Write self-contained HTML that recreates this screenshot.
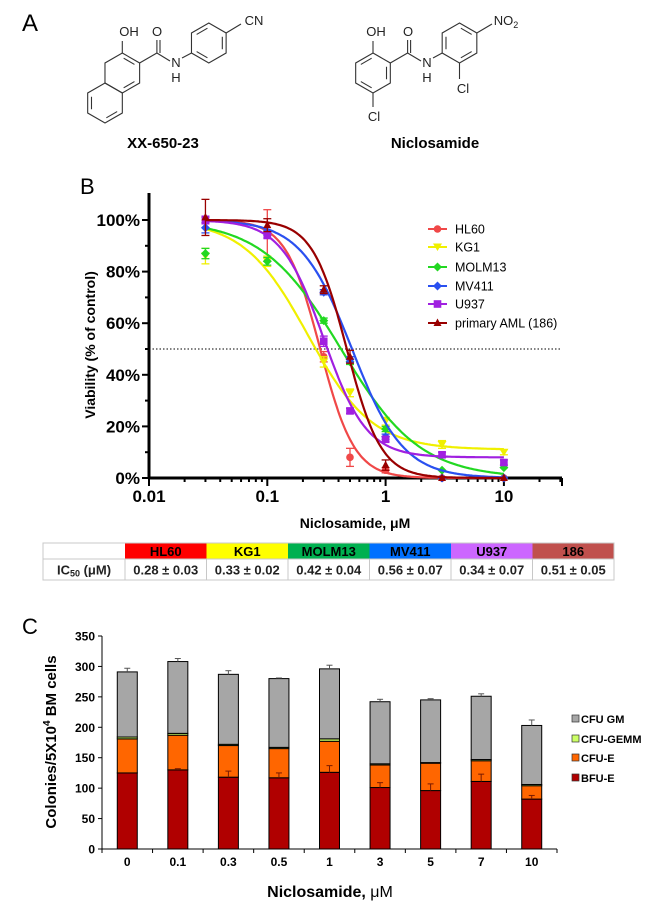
<!DOCTYPE html>
<html><head><meta charset="utf-8"><style>
body{margin:0;background:#fff;width:650px;height:912px;overflow:hidden;font-family:"Liberation Sans",sans-serif}
svg{position:absolute;left:0;top:0}
</style></head><body>
<svg id="fig" width="650" height="912" viewBox="0 0 650 912" xmlns="http://www.w3.org/2000/svg" font-family="Liberation Sans, sans-serif">
<!-- Panel A -->
<text x="22" y="31" font-size="24">A</text>
<g id="mol1" stroke="#333" stroke-width="1.1" fill="none"></g>
<g id="mol2" stroke="#333" stroke-width="1.1" fill="none"></g>
<g font-size="13" fill="#222">
<text x="129" y="36" text-anchor="middle">OH</text>
<text x="157" y="36" text-anchor="middle">O</text>
<text x="176" y="67" text-anchor="middle">N</text>
<text x="176" y="82" text-anchor="middle">H</text>
<text x="254" y="25" text-anchor="middle">CN</text>
<text x="376" y="36" text-anchor="middle">OH</text>
<text x="408" y="36" text-anchor="middle">O</text>
<text x="427" y="67" text-anchor="middle">N</text>
<text x="427" y="82" text-anchor="middle">H</text>
<text x="506" y="25" text-anchor="middle">NO<tspan font-size="9" dy="3">2</tspan></text>
<text x="463" y="93" text-anchor="middle">Cl</text>
<text x="374" y="121" text-anchor="middle">Cl</text>
</g>
<text x="163" y="148" font-size="15" font-weight="bold" text-anchor="middle">XX-650-23</text>
<text x="435" y="148" font-size="15" font-weight="bold" text-anchor="middle">Niclosamide</text>

<!-- Panel B -->
<text x="80" y="194" font-size="22">B</text>
<g id="chartB"></g>

<!-- Table -->
<g id="table"></g>

<!-- Panel C -->
<text x="22" y="634" font-size="22">C</text>
<g id="chartC"></g>
</svg>
<script>
// ---------- Panel B data ----------
const doses = [0.03, 0.1, 0.3, 0.5, 1, 3, 10];
const seriesNames = ["HL60","KG1","MOLM13","MV411","U937","primary AML (186)"];
const hl60Vals  = [100, 94, 47, 8, 3, 0, 0];
const kg1Vals   = [86, 84, 45, 33, 22, 13, 10];
const molm13Vals= [87, 84, 61, 45, 19, 3, 4];
const mv411Vals = [97, 95, 72, 46, 16, 0, 0];
const u937Vals  = [100, 94, 53, 26, 15, 9, 6];
const amlVals   = [101, 98, 73, 47, 5, 0, 0];
const hl60Err  = [1, 10, 2, 3.5, 1, 0, 0];
const kg1Err   = [3, 2, 2, 1.5, 1.5, 1.5, 1];
const molm13Err= [2, 1.5, 1, 1, 1, 0.5, 0.5];
const mv411Err = [2, 1, 1, 1, 1, 0.5, 0.5];
const u937Err  = [1.5, 1, 2, 1, 1, 1, 1];
const amlErr   = [7, 2.5, 1.5, 2.5, 2, 0.5, 0.5];
const fitTop    = [100, 100, 100, 100, 100, 100];
const fitBottom = [0, 11, 0, 0, 8, 0];
const fitEC50   = [0.28, 0.22, 0.42, 0.52, 0.3, 0.47];
const fitHill   = [3.0, 1.6, 1.3, 2.0, 2.4, 3.0];
const yTicks = [0, 20, 40, 60, 80, 100];
const xTicks = [0.01, 0.1, 1, 10];
const xTickLabels = ["0.01","0.1","1","10"];

// ---------- Table data ----------
const tableHeads = ["HL60","KG1","MOLM13","MV411","U937","186"];
const tableVals = ["0.28 ± 0.03","0.33 ± 0.02","0.42 ± 0.04","0.56 ± 0.07","0.34 ± 0.07","0.51 ± 0.05"];

// ---------- Panel C data ----------
const conc = ["0","0.1","0.3","0.5","1","3","5","7","10"];
const bfuE  = [125,130,118,117,126,101,96,111,82];
const cfuE  = [56,57,52,48,51,37,45,34,22];
const gemm  = [3,3,2,2,4,2,1,2,2];
const cfuGM = [107,118,115,113,115,102,103,104,97];
const bfuErr= [0,2,10,8,11,8,11,12,6];
const totErr= [6,5,6,1,6,4,2,4,9];
const cTicks = [0,50,100,150,200,250,300,350];
const legendC = ["CFU GM","CFU-GEMM","CFU-E","BFU-E"];

const NS="http://www.w3.org/2000/svg";
function mk(tag, attrs, parent){const e=document.createElementNS(NS,tag);for(const k in attrs)e.setAttribute(k,attrs[k]);parent.appendChild(e);return e;}

// ---------- Structures ----------
function hexPts(cx,cy,L){const p=[];for(let i=0;i<6;i++){const a=(-90+60*i)*Math.PI/180;p.push([cx+L*Math.cos(a),cy+L*Math.sin(a)]);}return p;}
function ring(g,cx,cy,L,dbl){const p=hexPts(cx,cy,L);mk('polygon',{points:p.map(q=>q.join(',')).join(' ')},g);
 dbl.forEach(i=>{const a=p[i],b=p[(i+1)%6];const s=0.78;const ax=cx+(a[0]-cx)*s,ay=cy+(a[1]-cy)*s,bx=cx+(b[0]-cx)*s,by=cy+(b[1]-cy)*s;
 const mx=(ax+bx)/2,my=(ay+by)/2;mk('line',{x1:mx+(ax-mx)*0.8,y1:my+(ay-my)*0.8,x2:mx+(bx-mx)*0.8,y2:my+(by-my)*0.8},g);});}
function ln(g,x1,y1,x2,y2){mk('line',{x1,y1,x2,y2},g);}
(function(){
 const g=document.getElementById('mol1');const L=20;
 ring(g,105,103,L,[2,4]);ring(g,122.3,73,L,[0,2]);ring(g,208.8,43,L,[1,3,5]);
 ln(g,122.3,53,122.3,41);
 ln(g,139.6,63,156.9,53);ln(g,156.9,53,156.9,40);ln(g,160,53,160,40);
 ln(g,156.9,53,170,61);ln(g,182,58,191.5,53);
 ln(g,226.1,33,241,24);
 const h=document.getElementById('mol2');
 ring(h,373,73,L,[1,3,5]);ring(h,459.5,43,L,[0,2,4]);
 ln(h,373,53,373,41);
 ln(h,390.3,63,407.6,53);ln(h,407.6,53,407.6,40);ln(h,410.6,53,410.6,40);
 ln(h,407.6,53,421,61);ln(h,433,58,442.2,53);
 ln(h,476.8,33,492,24);ln(h,459.5,63,459.5,79);ln(h,373,93,373,107);
})();

// ---------- Panel B ----------
(function(){
 const g=document.getElementById('chartB');
 const X0=149, DEC=118.3, Y0=478, YS=2.58, XEND=562;
 const xs=v=>X0+(Math.log10(v)+2)*DEC, ys=v=>Y0-v*YS;
 const colors=["#f04848","#f0f000","#22d822","#2a50f0","#a020e0","#990000"];
 const vals=[hl60Vals,kg1Vals,molm13Vals,mv411Vals,u937Vals,amlVals];
 const errs=[hl60Err,kg1Err,molm13Err,mv411Err,u937Err,amlErr];
 // axes
 let e=mk('line',{x1:X0,y1:193,x2:X0,y2:Y0,stroke:"#000","stroke-width":3},g);
 e=mk('line',{x1:X0,y1:Y0,x2:XEND,y2:Y0,stroke:"#000","stroke-width":3},g);
 for(let v=0;v<=100;v+=10){const big=v%20===0;mk('line',{x1:X0-(big?7:4),y1:ys(v),x2:X0,y2:ys(v),stroke:"#000","stroke-width":2},g);}
 yTicks.forEach(v=>{const t=mk('text',{x:X0-9,y:ys(v)+6,"font-size":17,"font-weight":"bold","text-anchor":"end"},g);t.textContent=v+"%";
  });
 for(let d=-2;d<=1;d++)for(let m=1;m<=9;m++){const v=m*Math.pow(10,d);if(v>30)continue;const x=xs(v);mk('line',{x1:x,y1:Y0,x2:x,y2:Y0+(m===1?8:4),stroke:"#000","stroke-width":2},g);}
 mk('line',{x1:XEND,y1:Y0,x2:XEND,y2:Y0+8,stroke:"#000","stroke-width":2},g);
 xTicks.forEach((v,i)=>{const t=mk('text',{x:xs(v),y:Y0+24,"font-size":17,"font-weight":"bold","text-anchor":"middle"},g);t.textContent=xTickLabels[i];
  });
 let t=mk('text',{x:355,y:528,"font-size":14,"font-weight":"bold","text-anchor":"middle"},g);t.textContent="Niclosamide, μM";
 
 t=mk('text',{x:0,y:0,"font-size":14,"font-weight":"bold","text-anchor":"middle",transform:"translate(95,345) rotate(-90)"},g);t.textContent="Viability (% of control)";
 
 e=mk('line',{x1:X0,y1:ys(50),x2:XEND,y2:ys(50),stroke:"#000","stroke-width":1,"stroke-dasharray":"1.5,2"},g);
 
 function marker(i,x,y,c,parent){
  let m;
  if(i===0)m=mk('circle',{cx:x,cy:y,r:3.8,fill:c},parent);
  else if(i===1)m=mk('polygon',{points:`${x-4.5},${y-3.5} ${x+4.5},${y-3.5} ${x},${y+4}`,fill:c},parent);
  else if(i===2||i===3)m=mk('polygon',{points:`${x},${y-4.5} ${x+4.5},${y} ${x},${y+4.5} ${x-4.5},${y}`,fill:c},parent);
  else if(i===4)m=mk('rect',{x:x-3.8,y:y-3.8,width:7.6,height:7.6,fill:c},parent);
  else m=mk('polygon',{points:`${x},${y-4.5} ${x+4},${y+3} ${x-4},${y+3}`,fill:c},parent);
  return m;}
 vals.forEach((arr,i)=>{
  const sg=mk('g',{},g);
  let d="";for(let k=0;k<=200;k++){const lx=-1.52+k*(Math.log10(10)+1.52)/200;const v=Math.pow(10,lx);
   const y=fitBottom[i]+(fitTop[i]-fitBottom[i])/(1+Math.pow(v/fitEC50[i],fitHill[i]));d+=(k?"L":"M")+xs(v).toFixed(1)+","+ys(y).toFixed(1);}
  const p=mk('path',{d:d,fill:"none",stroke:colors[i],"stroke-width":2.2},sg);
  arr.forEach((v,k)=>{const x=xs(doses[k]),y=ys(v),er=errs[i][k]*YS;
   if(er>2){mk('line',{x1:x,y1:y-er,x2:x,y2:y+er,stroke:colors[i],"stroke-width":1.3},sg);
    mk('line',{x1:x-4,y1:y-er,x2:x+4,y2:y-er,stroke:colors[i],"stroke-width":1.3},sg);mk('line',{x1:x-4,y1:y+er,x2:x+4,y2:y+er,stroke:colors[i],"stroke-width":1.3},sg);}
   const m=marker(i,x,y,colors[i],sg);});
 });
 const lg=mk('g',{},g);
 const ly=[229,247,267,286,304,323];
 seriesNames.forEach((n,i)=>{const eg=mk('g',{},lg);
  mk('line',{x1:428,y1:ly[i],x2:447,y2:ly[i],stroke:colors[i],"stroke-width":2},eg);marker(i,437.5,ly[i],colors[i],eg);
  const t=mk('text',{x:455,y:ly[i]+4.5,"font-size":12.5},eg);t.textContent=n;});
})();

// ---------- Table ----------
(function(){
 const g=document.getElementById('table');
 const L=43,T=543,LW=82,CW=81.5,H1=16,H2=21;
 const bg=["#ff0000","#ffff00","#00b050","#0070ff","#cc66ff","#c0504d"];
 tableHeads.forEach((h,i)=>{const x=L+LW+i*CW;
  const r=mk('rect',{x:x,y:T,width:CW,height:H1,fill:bg[i]},g);
  const t=mk('text',{x:x+CW/2,y:T+13,"font-size":13,"font-weight":"bold","text-anchor":"middle"},g);t.textContent=h;
  
  const v=mk('text',{x:x+CW/2,y:T+H1+15.5,"font-size":13,"font-weight":"bold","text-anchor":"middle",fill:"#222"},g);v.textContent=tableVals[i];
  });
 const R=L+LW+6*CW;
 mk('rect',{x:L,y:T,width:R-L,height:H1+H2,fill:"none",stroke:"#c8c8c8","stroke-width":1},g);
 mk('line',{x1:L,y1:T+H1,x2:R,y2:T+H1,stroke:"#c8c8c8"},g);
 for(let i=0;i<=6;i++){const x=L+LW+i*CW;mk('line',{x1:x,y1:T+H1,x2:x,y2:T+H1+H2,stroke:"#c8c8c8"},g);}
 const t=mk('text',{x:L+LW/2,y:T+H1+15.5,"font-size":13,"font-weight":"bold","text-anchor":"middle",fill:"#222"},g);
 t.innerHTML='IC<tspan font-size="9" dy="2">50</tspan><tspan dy="-2"> (μM)</tspan>';
 
})();

// ---------- Panel C ----------
(function(){
 const g=document.getElementById('chartC');
 const X0=102,XE=557,Y0=849,S=(849-636)/350;const CW=(XE-X0)/conc.length,BW=20;
 const ys=v=>Y0-v*S;
 let e=mk('line',{x1:X0,y1:636,x2:X0,y2:Y0,stroke:"#000","stroke-width":1},g);
 e=mk('line',{x1:X0,y1:Y0,x2:XE,y2:Y0,stroke:"#000","stroke-width":1},g);
 cTicks.forEach(v=>{mk('line',{x1:X0-4,y1:ys(v),x2:X0,y2:ys(v),stroke:"#000"},g);
  const t=mk('text',{x:X0-7,y:ys(v)+4.5,"font-size":12,"font-weight":"bold","text-anchor":"end"},g);t.textContent=v;
  });
 for(let i=0;i<=conc.length;i++){const x=X0+i*CW;mk('line',{x1:x,y1:Y0,x2:x,y2:Y0+4,stroke:"#000"},g);}
 const cols=["#b00000","#ff6600","#ccff66","#a6a6a6"];
 conc.forEach((c,i)=>{const cx=X0+CW*(i+0.5),x=cx-BW/2;
  const bg=mk('g',{},g);
  const segs=[bfuE[i],cfuE[i],gemm[i],cfuGM[i]];let base=0;
  segs.forEach((v,k)=>{const r=mk('rect',{x:x,y:ys(base+v),width:BW,height:v*S,fill:cols[k],stroke:"#000","stroke-width":1},bg);
   base+=v;});
  const tot=base;
  [[bfuE[i],bfuErr[i],"#7a1a00"],[tot,totErr[i],"#555"]].forEach(([v,er,col])=>{if(er<=0)return;
   mk('line',{x1:cx,y1:ys(v),x2:cx,y2:ys(v+er),stroke:col,"stroke-width":1},bg);mk('line',{x1:cx-3,y1:ys(v+er),x2:cx+3,y2:ys(v+er),stroke:col,"stroke-width":1},bg);});
  const t=mk('text',{x:cx,y:866,"font-size":12,"font-weight":"bold","text-anchor":"middle"},g);t.textContent=c;
  });
 let t=mk('text',{x:330,y:897,"font-size":16,"font-weight":"bold","text-anchor":"middle"},g);t.innerHTML='Niclosamide, <tspan font-weight="normal">μM</tspan>';
 
 t=mk('text',{x:0,y:0,"font-size":15,"font-weight":"bold","text-anchor":"middle",transform:"translate(56,742) rotate(-90)"},g);
 t.innerHTML='Colonies/5X10<tspan font-size="10" dy="-6">4</tspan><tspan dy="6">  BM cells</tspan>';
 
 const lg=mk('g',{},g);
 const ly=[719,739,758,778];const lc=["#a6a6a6","#ccff66","#ff6600","#b00000"];
 legendC.forEach((n,i)=>{const eg=mk('g',{},lg);
  mk('rect',{x:572,y:ly[i]-4,width:7,height:7,fill:lc[i],stroke:"#333","stroke-width":0.7},eg);
  const tt=mk('text',{x:581,y:ly[i]+4,"font-size":11,"font-weight":"bold"},eg);tt.textContent=n;});
})();
</script>
</body></html>
